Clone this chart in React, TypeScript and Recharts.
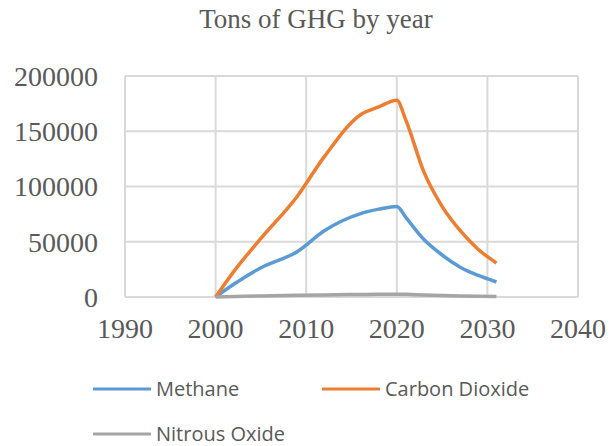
import { LineChart, Line, XAxis, YAxis, CartesianGrid, Legend } from 'recharts'

const years = [2000, 2002, 2005, 2009, 2012, 2016, 2018, 2020, 2021, 2023, 2025, 2027, 2029, 2031]
const methane = [0, 11500, 26500, 41000, 60000, 75500, 79500, 82000, 72000, 52000, 38000, 27000, 19500, 13600]
const carbonDioxide = [0, 23000, 53000, 91000, 127000, 165000, 172000, 178000, 160000, 113000, 82000, 60000, 43000, 30800]
const nitrousOxide = [0, 400, 900, 1500, 1900, 2300, 2500, 2600, 2400, 1800, 1300, 900, 600, 400]
const seriesNames = ['Methane', 'Carbon Dioxide', 'Nitrous Oxide']

const xTicks = [1990, 2000, 2010, 2020, 2030, 2040]
const yTicks = [0, 50000, 100000, 150000, 200000]

const data = years.map((year, i) => ({
  year,
  Methane: methane[i],
  'Carbon Dioxide': carbonDioxide[i],
  'Nitrous Oxide': nitrousOxide[i],
}))

const tickStyle = { fill: '#595959', fontSize: 28, fontFamily: '"Liberation Serif", serif' }

function LegendBox(props: any) {
  const items = [...(props.payload || [])].sort(
    (a: any, b: any) => seriesNames.indexOf(a.value) - seriesNames.indexOf(b.value)
  )
  return (
    <div style={{ position: 'relative', width: 610, height: 68 }}>
      {items.map((it: any, i: number) => (
        <div
          key={it.value}
          style={{
            position: 'absolute',
            left: 93 + (i % 2) * 229,
            top: Math.floor(i / 2) * 45,
            display: 'flex',
            alignItems: 'center',
            fontFamily: '"Open Sans", sans-serif',
            fontSize: 20,
            lineHeight: '26px',
            color: '#595959',
            whiteSpace: 'nowrap',
          }}
        >
          <svg width={58} height={6} style={{ marginRight: 5 }}>
            <line x1={1} y1={3} x2={57} y2={3} stroke={it.color} strokeWidth={3} strokeLinecap="round" />
          </svg>
          {it.value}
        </div>
      ))}
    </div>
  )
}

export default function App() {
  return (
    <div style={{ position: 'absolute', left: 0, top: 0, width: 610, height: 446, background: '#fff', overflow: 'hidden' }}>
      <div
        style={{
          position: 'absolute',
          left: 0,
          width: 632,
          top: 4,
          textAlign: 'center',
          fontFamily: '"Liberation Serif", serif',
          fontSize: 27,
          color: '#595959',
        }}
      >
        Tons of GHG by year
      </div>
      <LineChart width={610} height={446} data={data} margin={{ top: 76, right: 32, left: 0, bottom: 0 }}>
        <CartesianGrid stroke="#d9d9d9" strokeWidth={2} />
        <XAxis
          type="number"
          dataKey="year"
          domain={[1990, 2040]}
          ticks={xTicks}
          height={149}
          tickSize={0}
          tickMargin={21}
          axisLine={false}
          tick={tickStyle}
          interval={0}
        />
        <YAxis
          domain={[0, 200000]}
          ticks={yTicks}
          width={125}
          tickSize={0}
          tickMargin={27}
          axisLine={false}
          tick={tickStyle}
          interval={0}
        />
        <Legend
          verticalAlign="middle"
          align="center"
          layout="horizontal"
          wrapperStyle={{ top: 376, left: 0, width: 610 }}
          content={<LegendBox />}
        />
        <Line type="monotone" dataKey="Methane" stroke="#5B9BD5" strokeWidth={3.5} dot={false} isAnimationActive={false} />
        <Line type="monotone" dataKey="Carbon Dioxide" stroke="#ED7D31" strokeWidth={3.5} dot={false} isAnimationActive={false} />
        <Line type="monotone" dataKey="Nitrous Oxide" stroke="#A5A5A5" strokeWidth={3.5} dot={false} isAnimationActive={false} />
      </LineChart>
    </div>
  )
}
